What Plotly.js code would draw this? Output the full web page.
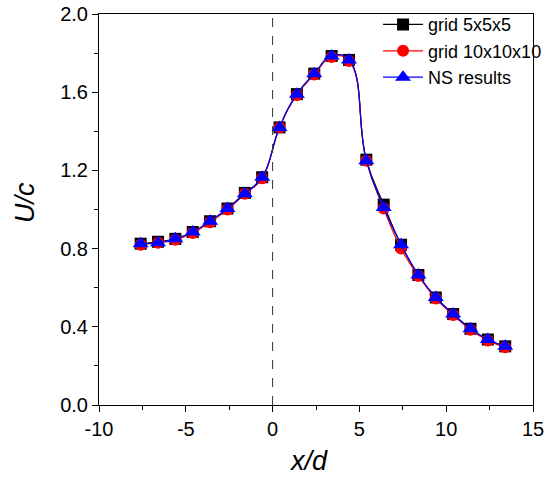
<!DOCTYPE html>
<html>
<head>
<meta charset="utf-8">
<script src="https://cdn.plot.ly/plotly-3.0.1.min.js"></script>
<style>html,body{margin:0;padding:0;background:#fff;}#chart{width:551px;height:477px;}</style>
</head>
<body>
<div id="chart"></div>
<script>
const xPos = [-7.6, -6.6, -5.6, -4.6, -3.6, -2.6, -1.6, -0.6, 0.4, 1.4, 2.4, 3.4, 4.4, 5.4, 6.4, 7.4, 8.4, 9.4, 10.4, 11.4, 12.4, 13.4];
const grid5 = [0.825, 0.835, 0.85, 0.885, 0.94, 1.005, 1.085, 1.165, 1.42, 1.59, 1.695, 1.785, 1.765, 1.255, 1.025, 0.82, 0.665, 0.55, 0.465, 0.39, 0.335, 0.30];
const grid10 = [0.82, 0.83, 0.845, 0.88, 0.935, 1.0, 1.08, 1.16, 1.42, 1.585, 1.69, 1.78, 1.76, 1.25, 1.005, 0.80, 0.66, 0.545, 0.46, 0.385, 0.33, 0.295];
const nsRes = [0.825, 0.83, 0.85, 0.885, 0.94, 1.005, 1.08, 1.165, 1.42, 1.59, 1.695, 1.785, 1.765, 1.25, 1.01, 0.82, 0.665, 0.55, 0.465, 0.39, 0.335, 0.30];
const names = ['grid 5x5x5', 'grid 10x10x10', 'NS results'];
const xTicks = [-10, -5, 0, 5, 10, 15];
const yTicks = [0.0, 0.4, 0.8, 1.2, 1.6, 2.0];
const xTitle = 'x/d';
const yTitle = 'U/c';

const FONT = 'Arial, "Liberation Sans", sans-serif';
const traces = [
  {x: xPos, y: grid5, name: names[0], mode: 'lines+markers', line: {color: '#000000', width: 1.2, shape: 'spline', smoothing: 1.3}, marker: {symbol: 'square', size: 12, color: '#000000'}},
  {x: xPos, y: grid10, name: names[1], mode: 'lines+markers', line: {color: '#ff0000', width: 1.2, shape: 'spline', smoothing: 1.3}, marker: {symbol: 'circle', size: 12, color: '#ff0000'}},
  {x: xPos, y: nsRes, name: names[2], mode: 'lines+markers', line: {color: '#0000ff', width: 1.2, shape: 'spline', smoothing: 1.3}, marker: {symbol: 'triangle-up', size: 14, color: '#0000ff'}}
];
const layout = {
  width: 551, height: 477,
  margin: {l: 99, r: 18, t: 14, b: 72, autoexpand: false},
  paper_bgcolor: '#ffffff', plot_bgcolor: '#ffffff',
  font: {family: FONT, size: 20, color: '#000'},
  showlegend: true,
  legend: {x: 0.643, y: 1.020, xanchor: 'left', yanchor: 'top', bgcolor: 'rgba(0,0,0,0)', font: {family: FONT, size: 18, color: '#000'}, tracegroupgap: 0, itemwidth: 40},
  xaxis: {
    range: [-10, 15], tickmode: 'array', tickvals: xTicks, ticktext: xTicks.map(String),
    ticks: 'outside', ticklen: 6, tickwidth: 1, tickcolor: '#000',
    minor: {dtick: 2.5, tick0: -10, ticks: 'outside', ticklen: 4, tickcolor: '#000'},
    showline: true, linecolor: '#000', linewidth: 1, mirror: true,
    showgrid: false, zeroline: false, automargin: false,
    tickfont: {family: FONT, size: 20}
  },
  yaxis: {
    range: [0, 2.0], tickmode: 'array', tickvals: yTicks, ticktext: yTicks.map(v => v.toFixed(1)),
    ticks: 'outside', ticklen: 6, tickwidth: 1, tickcolor: '#000',
    minor: {dtick: 0.2, tick0: 0, ticks: 'outside', ticklen: 4, tickcolor: '#000'},
    showline: true, linecolor: '#000', linewidth: 1, mirror: true,
    showgrid: false, zeroline: false, automargin: false,
    tickfont: {family: FONT, size: 20}
  },
  annotations: [
    {text: '<i>' + xTitle + '</i>', xref: 'paper', yref: 'paper', x: 0.4816, y: -0.143, xanchor: 'center', yanchor: 'middle', showarrow: false, font: {family: FONT, size: 27, color: '#000'}},
    {text: '<i>' + yTitle + '</i>', xref: 'paper', yref: 'paper', x: -0.1705, y: 0.5166, xanchor: 'center', yanchor: 'middle', textangle: -90, showarrow: false, font: {family: FONT, size: 27, color: '#000'}}
  ],
  shapes: [{type: 'line', xref: 'x', yref: 'paper', x0: 0, x1: 0, y0: 0, y1: 1, line: {color: '#333', width: 1, dash: 'dash'}}]
};
Plotly.newPlot('chart', traces, layout, {displayModeBar: false, staticPlot: true});
</script>
</body>
</html>
